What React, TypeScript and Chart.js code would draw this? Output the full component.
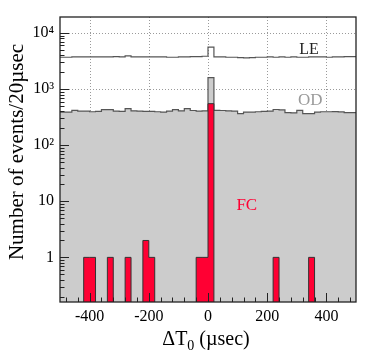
import React, { useEffect, useRef } from "react";
import { Chart, registerables } from "chart.js";

Chart.register(...registerables);

// Lower edge of each 20 µsec bin
const binStart = [
  -500, -480, -460, -440, -420, -400, -380, -360, -340, -320,
  -300, -280, -260, -240, -220, -200, -180, -160, -140, -120,
  -100, -80, -60, -40, -20, 0, 20, 40, 60, 80,
  100, 120, 140, 160, 180, 200, 220, 240, 260, 280,
  300, 320, 340, 360, 380, 400, 420, 440, 460, 480,
];
const binEnd = 500;

const leCounts = [
  3700, 3700, 3750, 3750, 3750, 3750, 3750, 3750, 3750, 3800,
  3750, 3900, 3750, 3750, 3750, 3750, 3750, 3750, 3700, 3700,
  3750, 3750, 3800, 3800, 3850, 5600, 3750, 3750, 3700, 3700,
  3650, 3600, 3650, 3700, 3700, 3750, 3700, 3750, 3700, 3750,
  3700, 3700, 3750, 3750, 3750, 3700, 3750, 3750, 3800, 3800,
];

const odCounts = [
  388, 388, 417, 405, 405, 395, 400, 430, 430, 405,
  400, 447, 410, 405, 400, 400, 395, 390, 405, 430,
  410, 447, 415, 405, 410, 1600, 417, 415, 410, 405,
  364, 390, 388, 395, 400, 405, 433, 425, 380, 378,
  417, 364, 365, 388, 395, 395, 398, 392, 380, 380,
];

const fcCounts = [
  0, 0, 0, 0, 1, 1, 0, 0, 1, 0,
  0, 1, 0, 0, 2, 1, 0, 0, 0, 0,
  0, 0, 0, 1, 1, 550, 0, 0, 0, 0,
  0, 0, 0, 0, 0, 0, 1, 0, 0, 0,
  0, 0, 1, 0, 0, 0, 0, 0, 0, 0,
];

const xTicks = [-400, -200, 0, 200, 400];
const yTicks = [1, 10, 100, 1000, 10000];
const yTickLabels = ["1", "10", "10²", "10³", "10⁴"];

const xTitle = "ΔT";
const xTitleSub = "0";
const xTitleRest = " (µsec)";
const yTitle = "Number of events/20µsec";

const labelLE = { text: "LE", x: 308, y: 4200, color: "#222222" };
const labelOD = { text: "OD", x: 304, y: 530, color: "#9a9a9a" };
const labelFC = { text: "FC", x: 96, y: 7.1, color: "#ff0033" };

const FONT = "'Liberation Serif', 'Times New Roman', serif";

const Y_MIN = 0.16;
const Y_MAX = 19300;

function histPoints(values: number[]) {
  const pts = values.map((v, i) => ({ x: binStart[i], y: v > 0 ? v : 0.01 }));
  const last = values[values.length - 1];
  pts.push({ x: binEnd, y: last > 0 ? last : 0.01 });
  return pts;
}

const gridPlugin = {
  id: "dottedGrid",
  beforeDatasetsDraw(chart: any) {
    const { ctx, chartArea } = chart;
    const xs = chart.scales.x;
    const ys = chart.scales.y;
    const { left, right, top, bottom } = chartArea;
    ctx.save();
    ctx.strokeStyle = "#9a9a9a";
    ctx.lineWidth = 1;
    ctx.setLineDash([1, 2]);
    ctx.beginPath();
    xTicks.forEach((v) => {
      const px = Math.round(xs.getPixelForValue(v)) + 0.5;
      ctx.moveTo(px, top);
      ctx.lineTo(px, bottom);
    });
    yTicks.forEach((v) => {
      const py = Math.round(ys.getPixelForValue(v)) + 0.5;
      ctx.moveTo(left, py);
      ctx.lineTo(right, py);
    });
    ctx.stroke();
    ctx.restore();
  },
};

const framePlugin = {
  id: "rootFrame",
  afterDatasetsDraw(chart: any) {
    const { ctx, chartArea } = chart;
    const xs = chart.scales.x;
    const ys = chart.scales.y;
    const { left, right, top, bottom } = chartArea;
    ctx.save();
    // inward ticks on x axis
    ctx.strokeStyle = "#222";
    ctx.lineWidth = 1;
    ctx.beginPath();
    for (let v = -480; v <= 480; v += 40) {
      const px = Math.round(xs.getPixelForValue(v)) + 0.5;
      const len = v % 200 === 0 ? 9 : 4.5;
      ctx.moveTo(px, bottom);
      ctx.lineTo(px, bottom - len);
    }
    // inward ticks on y axis (log)
    for (let dec = 0.1; dec <= 10000; dec *= 10) {
      for (let m = 1; m <= 9; m++) {
        const v = dec * m;
        if (v < Y_MIN || v > Y_MAX) continue;
        const py = Math.round(ys.getPixelForValue(v)) + 0.5;
        const len = m === 1 ? 9 : 4.5;
        ctx.moveTo(left, py);
        ctx.lineTo(left + len, py);
      }
    }
    ctx.stroke();
    // frame
    ctx.strokeStyle = "#222";
    ctx.lineWidth = 1.3;
    ctx.strokeRect(left, top, right - left, bottom - top);

    // in-plot labels
    const drawLabel = (l: any, size: number) => {
      ctx.font = `${size}px ${FONT}`;
      ctx.fillStyle = l.color;
      ctx.textAlign = "left";
      ctx.textBaseline = "alphabetic";
      ctx.fillText(l.text, xs.getPixelForValue(l.x), ys.getPixelForValue(l.y));
    };
    drawLabel(labelLE, 16);
    drawLabel(labelOD, 17);
    drawLabel(labelFC, 17);

    // x title
    const big = `20px ${FONT}`;
    const small = `14px ${FONT}`;
    ctx.fillStyle = "#000";
    ctx.font = big;
    const w1 = ctx.measureText(xTitle).width;
    const w3 = ctx.measureText(xTitleRest).width;
    ctx.font = small;
    const w2 = ctx.measureText(xTitleSub).width;
    const total = w1 + w2 + w3;
    const cx = 206;
    const base = 345;
    const x0 = cx - total / 2;
    ctx.font = big;
    ctx.fillText(xTitle, x0, base);
    ctx.font = small;
    ctx.fillText(xTitleSub, x0 + w1, base + 5);
    ctx.font = big;
    ctx.fillText(xTitleRest, x0 + w1 + w2, base);

    // y title
    ctx.save();
    ctx.translate(23, 152);
    ctx.rotate(-Math.PI / 2);
    ctx.font = `21px ${FONT}`;
    ctx.textAlign = "center";
    ctx.fillText(yTitle, 0, 0);
    ctx.restore();

    ctx.restore();
  },
};

export default function App() {
  const canvasRef = useRef<HTMLCanvasElement | null>(null);

  useEffect(() => {
    document.body.style.margin = "0";
    document.body.style.overflow = "hidden";
    const canvas = canvasRef.current;
    if (!canvas) return;
    const chart = new Chart(canvas, {
      type: "line",
      data: {
        datasets: [
          {
            label: "FC",
            data: histPoints(fcCounts),
            stepped: true,
            borderColor: "#333333",
            borderWidth: 1,
            backgroundColor: "#ff0033",
            fill: "start",
            pointRadius: 0,
          },
          {
            label: "LE",
            data: histPoints(leCounts),
            stepped: true,
            borderColor: "#555555",
            borderWidth: 1.2,
            fill: false,
            pointRadius: 0,
          },
          {
            label: "OD",
            data: histPoints(odCounts),
            stepped: true,
            borderColor: "#555555",
            borderWidth: 1.2,
            backgroundColor: "#cccccc",
            fill: "start",
            pointRadius: 0,
          },
        ],
      },
      options: {
        animation: false,
        responsive: true,
        maintainAspectRatio: false,
        layout: { padding: { left: 0, top: 17, right: 18, bottom: 0 } },
        plugins: {
          legend: { display: false },
          tooltip: { enabled: false },
        },
        scales: {
          x: {
            type: "linear",
            min: -500,
            max: 500,
            afterBuildTicks: (s: any) => {
              s.ticks = xTicks.map((v) => ({ value: v }));
            },
            afterFit: (s: any) => {
              s.height = 57;
            },
            grid: { display: false, drawTicks: false },
            border: { display: false },
            ticks: {
              padding: 5,
              color: "#000",
              font: { family: FONT, size: 16 },
              maxRotation: 0,
              callback: (v: any) => String(v),
            },
          },
          y: {
            type: "logarithmic",
            min: Y_MIN,
            max: Y_MAX,
            afterBuildTicks: (s: any) => {
              s.ticks = yTicks.map((v) => ({ value: v }));
            },
            afterFit: (s: any) => {
              s.width = 60;
            },
            grid: { display: false, drawTicks: false },
            border: { display: false },
            ticks: {
              padding: 6,
              color: "#000",
              font: { family: FONT, size: 16 },
              callback: (v: any) => {
                const i = yTicks.indexOf(Number(v));
                return i >= 0 ? yTickLabels[i] : "";
              },
            },
          },
        },
      },
      plugins: [gridPlugin, framePlugin],
    });
    return () => chart.destroy();
  }, []);

  return (
    <div style={{ position: "relative", width: "374px", height: "359px" }}>
      <canvas ref={canvasRef} />
    </div>
  );
}
